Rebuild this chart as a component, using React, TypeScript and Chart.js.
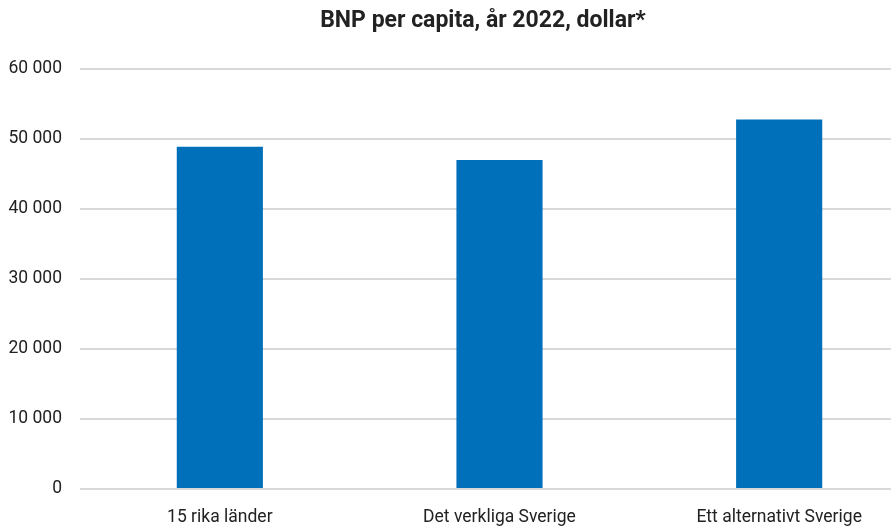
import React, { useEffect, useRef } from "react";
import { Chart, registerables } from "chart.js";

Chart.register(...registerables);

const categories = ["15 rika länder", "Det verkliga Sverige", "Ett alternativt Sverige"];
const values = [48900, 47000, 52800];
const titleText = "BNP per capita, år 2022, dollar*";
const yMin = 0;
const yMax = 60000;
const yStep = 10000;

const FONT = "Roboto, 'Noto Sans', sans-serif";

function fmt(v: number): string {
  return String(Math.round(v)).replace(/\B(?=(\d{3})+(?!\d))/g, " ");
}

export default function App() {
  const ref = useRef<HTMLCanvasElement>(null);
  useEffect(() => {
    const ctx = ref.current!;
    const chart = new Chart(ctx, {
      type: "bar",
      data: {
        labels: categories,
        datasets: [
          {
            data: values,
            backgroundColor: "#0070BA",
            borderWidth: 0,
            barPercentage: 0.308,
            categoryPercentage: 1,
          },
        ],
      },
      options: {
        responsive: false,
        animation: false,
        layout: { padding: { top: 69, right: 0, left: 0, bottom: 0 } },
        plugins: { legend: { display: false }, tooltip: { enabled: false }, title: { display: false } },
        scales: {
          x: {
            grid: { display: false },
            border: { display: false },
            ticks: { color: "#222", font: { family: FONT, size: 17.5 }, padding: 10 },
            afterFit: (s: any) => {
              s.height = 37;
            },
          },
          y: {
            min: yMin,
            max: yMax,
            border: { display: false },
            grid: { color: "#d9d9d9", lineWidth: 2, drawTicks: false },
            ticks: {
              stepSize: yStep,
              color: "#222",
              font: { family: FONT, size: 17.5 },
              padding: 18,
              callback: (v: any) => fmt(Number(v)),
            },
            afterFit: (s: any) => {
              s.width = 80;
            },
          },
        },
      },
    });
    return () => chart.destroy();
  }, []);
  return (
    <div style={{ position: "fixed", left: 0, top: 0, width: 891, height: 526, overflow: "hidden", background: "#fff" }}>
      <div
        style={{
          position: "absolute",
          left: 0,
          top: 6,
          width: 966,
          textAlign: "center",
          fontFamily: FONT,
          fontWeight: 700,
          fontSize: 23,
          color: "#222",
          lineHeight: "28px",
        }}
      >
        {titleText}
      </div>
      <canvas ref={ref} width={919} height={526} style={{ display: "block" }} />
    </div>
  );
}
